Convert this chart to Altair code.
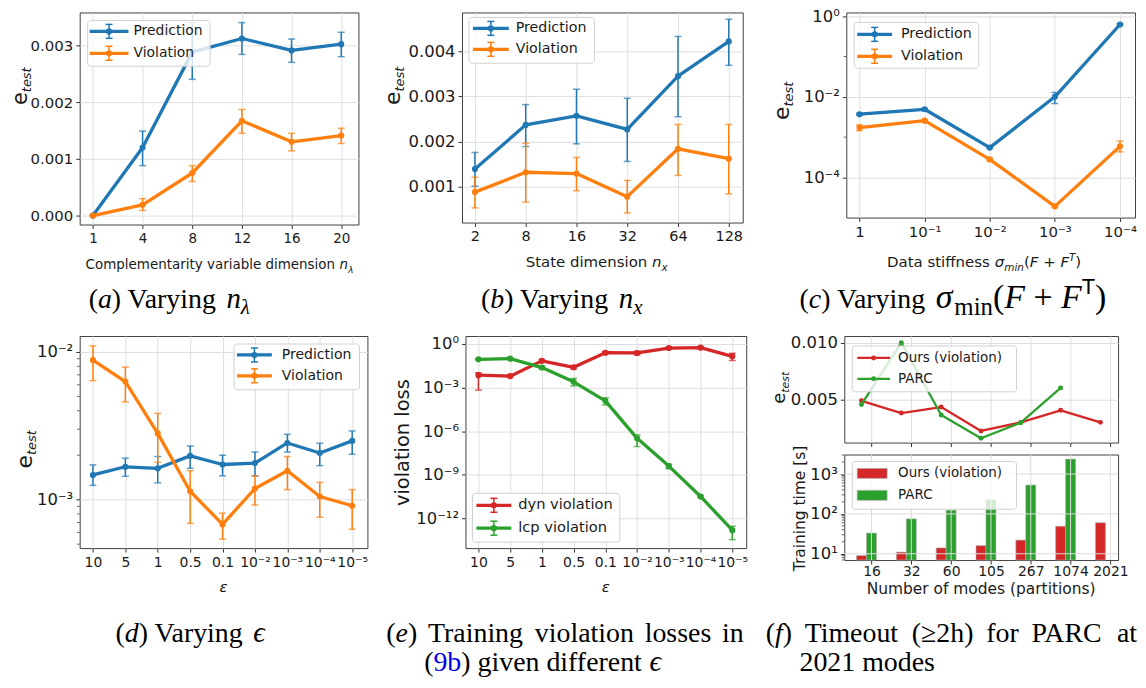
import json
import altair as alt
import pandas as pd

# ---------------- colours / series names ----------------
BLUE, ORANGE, RED, GREEN = '#1f77b4', '#ff7f0e', '#d62728', '#2ca02c'
SERIES_PV = ['Prediction', 'Violation']
SERIES_E = ['dyn violation', 'lcp violation']
SERIES_F = ['Ours (violation)', 'PARC']

# ---------------- (a) varying n_lambda ----------------
A_X = ['1', '4', '8', '12', '16', '20']
A_PRED = [0.0, 0.00120, 0.00288, 0.00312, 0.00291, 0.00302]
A_PRED_LO = [0.0, 0.00088, 0.00240, 0.00284, 0.00270, 0.00280]
A_PRED_HI = [0.0, 0.00149, 0.00340, 0.00340, 0.00311, 0.00323]
A_VIOL = [0.0, 0.00019, 0.00075, 0.00167, 0.00130, 0.00141]
A_VIOL_LO = [0.0, 0.00009, 0.00060, 0.00145, 0.00114, 0.00127]
A_VIOL_HI = [0.0, 0.00030, 0.00088, 0.00187, 0.00145, 0.00154]
A_YT = [0.0, 0.001, 0.002, 0.003]

# ---------------- (b) varying n_x ----------------
B_X = ['2', '8', '16', '32', '64', '128']
B_PRED = [0.00139, 0.00237, 0.00257, 0.00227, 0.00345, 0.00422]
B_PRED_LO = [0.00101, 0.00189, 0.00195, 0.00156, 0.00255, 0.00369]
B_PRED_HI = [0.00176, 0.00282, 0.00316, 0.00296, 0.00433, 0.00471]
B_VIOL = [0.00088, 0.00132, 0.00129, 0.00078, 0.00184, 0.00162]
B_VIOL_LO = [0.00053, 0.00066, 0.00091, 0.00042, 0.00125, 0.00084]
B_VIOL_HI = [0.00121, 0.00196, 0.00165, 0.00114, 0.00238, 0.00238]
B_YT = [0.001, 0.002, 0.003, 0.004]

# ---------------- (c) varying stiffness ----------------
C_X = ['1', '10⁻¹', '10⁻²', '10⁻³', '10⁻⁴']
C_PRED = [3.7e-3, 4.9e-3, 5.5e-4, 1.0e-2, 0.62]
C_PRED_LO = [3.5e-3, 4.6e-3, 5.2e-4, 6.8e-3, 0.59]
C_PRED_HI = [3.9e-3, 5.2e-3, 5.8e-4, 1.28e-2, 0.65]
C_VIOL = [1.72e-3, 2.56e-3, 2.8e-4, 1.92e-5, 5.9e-4]
C_VIOL_LO = [1.45e-3, 2.4e-3, 2.6e-4, 1.8e-5, 4.3e-4]
C_VIOL_HI = [2.0e-3, 2.7e-3, 3.0e-4, 2.05e-5, 8.0e-4]
C_YT = [1e-4, 1e-2, 1.0]
C_YL = ['10⁻⁴', '10⁻²', '10⁰']
C_YMINOR = [1e-3, 1e-1]

# ---------------- (d) varying epsilon ----------------
EPS_X = ['10', '5', '1', '0.5', '0.1', '10⁻²', '10⁻³', '10⁻⁴', '10⁻⁵']
D_PRED = [1.47e-3, 1.67e-3, 1.63e-3, 1.98e-3, 1.73e-3, 1.77e-3, 2.42e-3, 2.07e-3, 2.50e-3]
D_PRED_LO = [1.25e-3, 1.44e-3, 1.30e-3, 1.63e-3, 1.45e-3, 1.45e-3, 2.10e-3, 1.70e-3, 2.03e-3]
D_PRED_HI = [1.72e-3, 1.91e-3, 1.96e-3, 2.31e-3, 2.00e-3, 2.10e-3, 2.77e-3, 2.41e-3, 2.92e-3]
D_VIOL = [8.8e-3, 6.3e-3, 2.81e-3, 1.14e-3, 6.8e-4, 1.19e-3, 1.57e-3, 1.05e-3, 9.1e-4]
D_VIOL_LO = [6.4e-3, 4.6e-3, 1.79e-3, 6.9e-4, 5.4e-4, 9.2e-4, 1.17e-3, 7.6e-4, 6.3e-4]
D_VIOL_HI = [1.1e-2, 7.9e-3, 3.84e-3, 1.57e-3, 8.1e-4, 1.45e-3, 1.96e-3, 1.31e-3, 1.17e-3]
D_YT = [1e-3, 1e-2]
D_YL = ['10⁻³', '10⁻²']
D_YMINOR = [5e-4, 6e-4, 7e-4, 8e-4, 9e-4, 2e-3, 3e-3, 4e-3, 5e-3, 6e-3, 7e-3, 8e-3, 9e-3]

# ---------------- (e) training violation losses ----------------
E_DYN = [6.9e-3, 5.9e-3, 0.066, 0.024, 0.24, 0.23, 0.50, 0.53, 0.136]
E_DYN_LO = [6.5e-4, 5.0e-3, 0.055, 0.018, 0.20, 0.17, 0.42, 0.45, 0.07]
E_DYN_HI = [1.0e-2, 7.0e-3, 0.080, 0.031, 0.29, 0.30, 0.60, 0.62, 0.22]
E_LCP = [0.085, 0.094, 0.023, 2.4e-3, 1.2e-4, 3.2e-7, 4.0e-9, 3.3e-11, 1.6e-13]
E_LCP_LO = [0.078, 0.086, 0.019, 1.26e-3, 6.3e-5, 8.7e-8, 2.6e-9, 2.8e-11, 3.6e-14]
E_LCP_HI = [0.092, 0.100, 0.028, 4.1e-3, 1.95e-4, 5.5e-7, 5.4e-9, 3.9e-11, 2.95e-13]
E_YT = [1e-12, 1e-9, 1e-6, 1e-3, 1.0]
E_YL = ['10⁻¹²', '10⁻⁹', '10⁻⁶', '10⁻³', '10⁰']

# ---------------- (f) timeout / training time ----------------
F_X = ['16', '32', '60', '105', '267', '1074', '2021']
F_OURS_ERR = [0.00488, 0.00380, 0.00433, 0.00222, 0.00298, 0.00404, 0.00298]
F_PARC_ERR = [0.00456, 0.01000, 0.00363, 0.00158, 0.00295, 0.00602, None]
F_OURS_TIME = [9.0, 11.0, 14.0, 16.0, 22.0, 49.0, 60.0]
F_PARC_TIME = [33.0, 75.0, 124.0, 228.0, 530.0, 2370.0, None]
F_TOP_YT = [0.005, 0.010]
F_BOT_YT = [10, 100, 1000]
F_BOT_YL = ['10¹', '10²', '10³']
F_BOT_YMINOR = [7, 8, 9, 20, 30, 40, 50, 60, 70, 80, 90, 200, 300, 400, 500,
                600, 700, 800, 900, 2000, 3000]

# ---------------- text ----------------
A_XTITLE = [('Complementarity variable dimension ', 'r'), ('n', 'i'), ('λ', 'isub')]
B_XTITLE = [('State dimension ', 'r'), ('n', 'i'), ('x', 'isub')]
C_XTITLE = [('Data stiffness ', 'r'), ('σ', 'i'), ('min', 'isub'), ('(', 'r'), ('F', 'i'),
            (' + ', 'r'), ('F', 'i'), ('T', 'isup'), (')', 'r')]
EPS_XTITLE = [('ε', 'i')]
E_YTITLE = [('violation loss', 'r')]
F_YTITLE = [('Training time [s]', 'r')]
F_XTITLE = [('Number of modes (partitions)', 'r')]

CAP_A = [('(', 'r'), ('a', 'i'), (') Varying ', 'r'), ('n', 'mi'), ('λ', 'isub')]
CAP_B = [('(', 'r'), ('b', 'i'), (') Varying ', 'r'), ('n', 'mi'), ('x', 'isub')]
CAP_C = [('(', 'r'), ('c', 'i'), (') Varying ', 'r'), ('σ', 'bi'), ('min', 'rsub2'), ('(', 'br'),
         ('F', 'bi'), (' + ', 'br'), ('F', 'bi'), ('T', 'ssup'), (')', 'br')]
CAP_D = [('(', 'r'), ('d', 'i'), (') Varying ', 'r'), ('ϵ', 'mi')]
CAP_E1 = [('(', 'r'), ('e', 'i'), (')', 'r'), (' ', 'r'), ('Training', 'r'), (' ', 'r'),
          ('violation', 'r'), (' ', 'r'), ('losses', 'r'), (' ', 'r'), ('in', 'r')]
CAP_E2 = [('(', 'r'), ('9b', 'link'), (') given different ', 'r'), ('ϵ', 'mi')]
CAP_F1 = [('(', 'r'), ('f', 'i'), (')', 'r'), (' ', 'r'), ('Timeout', 'r'), (' ', 'r'),
          ('(≥2h)', 'r'), (' ', 'r'), ('for', 'r'), (' ', 'r'), ('PARC', 'r'), (' ', 'r'), ('at', 'r')]
CAP_F2 = [('2021 modes', 'r')]

# ---------------- glyph width tables (em) ----------------
DJ = {' ': .318, '(': .390, ')': .390, '[': .390, ']': .390, '+': .838, '.': .318,
      'A': .684, 'B': .686, 'C': .698, 'D': .770, 'E': .632, 'F': .575, 'G': .775, 'H': .752,
      'I': .295, 'J': .295, 'K': .656, 'L': .557, 'M': .863, 'N': .748, 'O': .787, 'P': .603,
      'Q': .787, 'R': .695, 'S': .635, 'T': .611, 'U': .732, 'V': .684, 'W': .989, 'X': .685,
      'Y': .611, 'Z': .685, 'a': .613, 'b': .635, 'c': .550, 'd': .635, 'e': .615, 'f': .352,
      'g': .635, 'h': .634, 'i': .278, 'j': .278, 'k': .579, 'l': .278, 'm': .974, 'n': .634,
      'o': .612, 'p': .635, 'q': .635, 'r': .411, 's': .521, 't': .392, 'u': .634, 'v': .592,
      'w': .818, 'x': .592, 'y': .592, 'z': .525, 'σ': .634, 'λ': .592, 'ε': .541}
TM = {' ': .25, '(': .333, ')': .333, '+': .564, '≥': .549, 'A': .722, 'C': .667, 'F': .556,
      'P': .556, 'R': .667, 'T': .611, 'V': .722, 'a': .444, 'b': .5, 'c': .444, 'd': .5,
      'e': .444, 'f': .333, 'g': .5, 'h': .5, 'i': .278, 'l': .278, 'm': .778, 'n': .5,
      'o': .5, 'r': .333, 's': .389, 't': .278, 'u': .5, 'v': .5, 'y': .5, 'x': .5}
TMI = dict(TM, **{'a': .5, 'f': .278, 'x': .444, 'F': .611, 'σ': .55, 'λ': .5, 'ϵ': .44})
SANS = {'T': .611}
for _d in '0123456789':
    DJ[_d] = .636
    TM[_d] = .5
    TMI[_d] = .5

SERIF = 'Liberation Serif, DejaVu Serif, serif'
DEJAVU = 'DejaVu Sans'
CF = 28


def width(t, size, tab):
    return sum(tab.get(ch, 0.6) for ch in t) * size


def K():
    return alt.Chart(pd.DataFrame({'k': [0]}))


def cap_tokens(toks):
    spec = {
        'r': (SERIF, CF, 'normal', 0, '#000000', TM),
        'i': (SERIF, CF, 'italic', 0, '#000000', TMI),
        'mi': (SERIF, 29, 'italic', 0, '#000000', TMI),
        'br': (SERIF, 34, 'normal', 0, '#000000', TM),
        'bi': (SERIF, 34, 'italic', 0, '#000000', TMI),
        'isub': (SERIF, 21, 'italic', 6, '#000000', TMI),
        'rsub2': (SERIF, 25, 'normal', 7, '#000000', TM),
        'ssup': ('Liberation Sans', 22, 'normal', -14, '#000000', SANS),
        'link': (SERIF, CF, 'normal', 0, '#0000ee', TM),
    }
    return [(t,) + spec[k] for t, k in toks]


def ax_tokens(toks, fs):
    spec = {
        'r': (DEJAVU, fs, 'normal', 0, '#1a1a1a', DJ),
        'i': (DEJAVU, fs, 'italic', 0, '#1a1a1a', DJ),
        'isub': (DEJAVU, fs * 0.7, 'italic', fs * 0.25, '#1a1a1a', DJ),
        'isup': (DEJAVU, fs * 0.7, 'italic', -fs * 0.45, '#1a1a1a', DJ),
    }
    return [(t,) + spec[k] for t, k in toks]


def etest_tokens(big, small):
    return [('e', DEJAVU, big, 'normal', 0, '#1a1a1a', DJ),
            ('test', DEJAVU, small, 'italic', 4, '#1a1a1a', DJ)]


def run(o, x0, y0, toks, angle=0, anchor='left', target=None):
    ox, oy = o
    widths = [width(t[0], t[2], t[6]) for t in toks]
    total = sum(widths)
    nsp = sum(1 for t in toks if t[0] == ' ')
    extra = (target - total) / nsp if (target and nsp) else 0.0
    if anchor == 'center':
        if angle == 0:
            x0 = x0 - total / 2
        else:
            y0 = y0 + total / 2
    out = []
    p = 0.0
    for (t, font, size, style, dy, color, tab), w in zip(toks, widths):
        lead = len(t) - len(t.lstrip(' '))
        shown = t.strip(' ')
        if shown:
            q = p + width(' ' * lead, size, tab)
            if angle == 0:
                x, y = x0 + q, y0 + dy
            else:
                x, y = x0 + dy, y0 - q
            out.append(K().mark_text(align='left', baseline='alphabetic', font=font,
                                     fontSize=size, fontStyle=style, color=color,
                                     angle=angle).encode(
                x=alt.value(x - ox), y=alt.value(y - oy), text=alt.value(shown)))
        p += w + (extra if t == ' ' else 0.0)
    return out


def cond_expr(vals, labels):
    pairs = sorted(zip(vals, labels), key=lambda p: p[0])
    expr = "''"
    for v, l in pairs:
        expr = f"datum.value >= {v * 0.5!r} ? '{l}' : ({expr})"
    return expr


def axes(xdom, xlabels, ydom, ylog, yvals, ylabels=None, yfmt=None, xls=14.0, yls=16.5,
         show_x=True, grid=True, xpad=3):
    xaxis = alt.Axis(values=list(range(len(xlabels))),
                     labelExpr=json.dumps(xlabels, ensure_ascii=False) + '[round(datum.value)]',
                     title=None, grid=grid, labelFontSize=xls, labelOverlap=False,
                     labelFlush=False, labels=show_x, labelPadding=xpad)
    ykw = dict(values=yvals, title=None, grid=grid, labelFontSize=yls, labelOverlap=False,
               labelFlush=False)
    if ylabels:
        ykw['labelExpr'] = cond_expr(yvals, ylabels)
    if yfmt:
        ykw['format'] = yfmt
    yaxis = alt.Axis(**ykw)
    xscale = alt.Scale(domain=xdom, nice=False, zero=False)
    if ylog:
        yscale = alt.Scale(type='log', domain=ydom, nice=False)
    else:
        yscale = alt.Scale(domain=ydom, nice=False, zero=False)

    def X(f):
        return alt.X(f'{f}:Q', scale=xscale, axis=xaxis)

    def Y(f):
        return alt.Y(f'{f}:Q', scale=yscale, axis=yaxis)
    return X, Y


def series(X, Y, pos, vals, lo, hi, color, lw=3.3, pt=38, cap=7, ew=1.5):
    d = {'pos': list(pos), 'val': vals}
    if lo is not None:
        d['lo'] = lo
        d['hi'] = hi
    df = pd.DataFrame(d).dropna()
    b = alt.Chart(df)
    out = [b.mark_line(color=color, strokeWidth=lw, strokeJoin='round').encode(
        x=X('pos'), y=Y('val'))]
    if lo is not None:
        out.append(b.mark_rule(color=color, strokeWidth=ew).encode(
            x=X('pos'), y=Y('lo'), y2='hi'))
        out.append(b.transform_fold(['lo', 'hi'], as_=['kind', 'v']).mark_tick(
            color=color, orient='horizontal', size=cap, thickness=ew).encode(
            x=X('pos'), y=Y('v')))
    out.append(b.mark_circle(color=color, size=pt, opacity=1).encode(
        x=X('pos'), y=Y('val')))
    return out


def minor(Y, vals, n=2.5):
    return alt.Chart(pd.DataFrame({'m': vals})).mark_rule(
        color='#333333', strokeWidth=0.8).encode(x=alt.value(0), x2=alt.value(-n), y=Y('m'))


def legend(o, box, rows, line, tx, fs, kind='err', lw=3.3, pt=38):
    ox, oy = o
    x0, y0, x1, y1 = box
    L = [K().mark_rect(fill='white', fillOpacity=0.8, stroke='#d0d0d0', strokeWidth=1,
                       cornerRadius=3).encode(
        x=alt.value(x0 - ox), x2=alt.value(x1 - ox), y=alt.value(y0 - oy), y2=alt.value(y1 - oy))]
    lx0, lx1 = line
    mid = (lx0 + lx1) / 2
    for label, color, ry in rows:
        if kind == 'bar':
            L.append(K().mark_rect(fill=color, stroke='#aaaaaa', strokeWidth=0.6).encode(
                x=alt.value(lx0 - ox), x2=alt.value(lx1 - ox),
                y=alt.value(ry - 5 - oy), y2=alt.value(ry + 5 - oy)))
        else:
            L.append(K().mark_rule(color=color, strokeWidth=lw).encode(
                x=alt.value(lx0 - ox), x2=alt.value(lx1 - ox), y=alt.value(ry - oy)))
            if kind == 'err':
                L.append(K().mark_rule(color=color, strokeWidth=1.5).encode(
                    x=alt.value(mid - ox), y=alt.value(ry - 7 - oy), y2=alt.value(ry + 7 - oy)))
                for yy in (ry - 7, ry + 7):
                    L.append(K().mark_rule(color=color, strokeWidth=1.5).encode(
                        x=alt.value(mid - 3.5 - ox), x2=alt.value(mid + 3.5 - ox),
                        y=alt.value(yy - oy)))
            L.append(K().mark_circle(color=color, size=pt, opacity=1).encode(
                x=alt.value(mid - ox), y=alt.value(ry - oy)))
        L.append(K().mark_text(align='left', baseline='middle', font=DEJAVU, fontSize=fs,
                               color='#1a1a1a').encode(
            x=alt.value(tx - ox), y=alt.value(ry - oy), text=alt.value(label)))
    return L


def pin(x, y):
    return K().mark_rule(opacity=0, color='white').encode(
        x=alt.value(x), x2=alt.value(x + 1), y=alt.value(y))


# ======================= panel (a) =======================
oa, oca = (79, 7), (79, 12)
Xa, Ya = axes([-0.267, 5.347], A_X, [-0.000158, 0.003579], False, A_YT, yfmt='.3f',
              xls=13.5, yls=15)
La = []
La += series(Xa, Ya, range(6), A_PRED, A_PRED_LO, A_PRED_HI, BLUE)
La += series(Xa, Ya, range(6), A_VIOL, A_VIOL_LO, A_VIOL_HI, ORANGE)
La += legend(oa, (87, 15, 210, 61), [(SERIES_PV[0], BLUE, 26), (SERIES_PV[1], ORANGE, 48)],
             (89, 128), 133, 14)
La += run(oa, 26, 100, etest_tokens(21, 13), angle=270)
La += run(oa, 219.5, 265, ax_tokens(A_XTITLE, 13.5), anchor='center')
La += run(oca, 88, 309, cap_tokens(CAP_A))
La.append(pin(-76, -6))
pa = alt.layer(*La).properties(width=280, height=213)

# ======================= panel (b) =======================
ob, ocb = (466, 7), (463, 12)
Xb, Yb = axes([-0.255, 5.275], B_X, [0.000206, 0.004861], False, B_YT, yfmt='.3f',
              xls=14.5, yls=16.5)
Lb = []
Lb += series(Xb, Yb, range(6), B_PRED, B_PRED_LO, B_PRED_HI, BLUE)
Lb += series(Xb, Yb, range(6), B_VIOL, B_VIOL_LO, B_VIOL_HI, ORANGE)
Lb += legend(ob, (473, 12, 599, 58), [(SERIES_PV[0], BLUE, 23), (SERIES_PV[1], ORANGE, 44)],
             (477, 513), 520, 14.3)
Lb += run(ob, 404, 100, etest_tokens(22, 13), angle=270)
Lb += run(ob, 530, 263, ax_tokens(B_XTITLE, 15))
Lb += run(ocb, 482, 309, cap_tokens(CAP_B))
pb = alt.layer(*Lb).properties(width=282, height=211)

# ======================= panel (c) =======================
oc, occ = (849, 7), (849, 12)
Xc, Yc = axes([-0.203, 4.231], C_X, [10 ** -4.995, 10 ** 0.0914], True, C_YT, ylabels=C_YL,
              xls=15, yls=16.5)
Lc = [minor(Yc, C_YMINOR)]
Lc += series(Xc, Yc, range(5), C_PRED, C_PRED_LO, C_PRED_HI, BLUE)
Lc += series(Xc, Yc, range(5), C_VIOL, C_VIOL_LO, C_VIOL_HI, ORANGE)
Lc += legend(oc, (857, 17, 982, 63), [(SERIES_PV[0], BLUE, 29), (SERIES_PV[1], ORANGE, 51)],
             (860, 895), 904, 14.3)
Lc += run(oc, 791, 115, etest_tokens(22, 13), angle=270)
Lc += run(oc, 890, 263, ax_tokens(C_XTITLE, 15))
Lc += run(occ, 802, 309, cap_tokens(CAP_C))
pc = alt.layer(*Lc).properties(width=290, height=206)

# ======================= panel (d) =======================
od = (79, 334)
Xd, Yd = axes([-0.409, 8.470], EPS_X, [10 ** -3.328, 10 ** -1.892], True, D_YT, ylabels=D_YL,
              xls=14, yls=16.5)
Ld = [minor(Yd, D_YMINOR)]
Ld += series(Xd, Yd, range(9), D_PRED, D_PRED_LO, D_PRED_HI, BLUE)
Ld += series(Xd, Yd, range(9), D_VIOL, D_VIOL_LO, D_VIOL_HI, ORANGE)
Ld += legend(od, (234, 342, 360, 388), [(SERIES_PV[0], BLUE, 353), (SERIES_PV[1], ORANGE, 374)],
             (237, 272), 282, 14.1)
Ld += run(od, 31, 467, etest_tokens(22, 13), angle=270)
Ld += run(od, 223.5, 591, ax_tokens(EPS_XTITLE, 15), anchor='center')
Ld += run(od, 115, 641, cap_tokens(CAP_D))
Ld.append(pin(-76, 10))
pd_ = alt.layer(*Ld).properties(width=289, height=213)

# ======================= panel (e) =======================
oe, oce = (467, 334), (466.5, 334)
Xe, Ye = axes([-0.408, 8.439], EPS_X, [10 ** -14.025, 10 ** 0.5237], True, E_YT, ylabels=E_YL,
              xls=14, yls=16.5)
Le = []
Le += series(Xe, Ye, range(9), E_DYN, E_DYN_LO, E_DYN_HI, RED)
Le += series(Xe, Ye, range(9), E_LCP, E_LCP_LO, E_LCP_HI, GREEN)
Le += legend(oe, (474, 492, 622, 541), [(SERIES_E[0], RED, 504), (SERIES_E[1], GREEN, 527)],
             (478, 513), 520, 14.7)
Le += run(oe, 410, 441, ax_tokens(E_YTITLE, 19.5), angle=270, anchor='center')
Le += run(oe, 608, 591, ax_tokens(EPS_XTITLE, 15), anchor='center')
Le += run(oce, 387, 641, cap_tokens(CAP_E1), target=359)
Le += run(oce, 425, 670.5, cap_tokens(CAP_E2))
pe = alt.layer(*Le).properties(width=282, height=213)

# ======================= panel (f) top =======================
oft = (847, 334)
FPOS = [i - 0.25 for i in range(7)]
Xft, Yft = axes([-0.683, 6.193], F_X, [0.0012, 0.01059], False, F_TOP_YT, yfmt='.3f',
                xls=14, yls=16.5, show_x=False)
Lft = []
Lft += series(Xft, Yft, FPOS, F_OURS_ERR, None, None, RED, lw=2.3, pt=25)
Lft += series(Xft, Yft, FPOS, F_PARC_ERR, None, None, GREEN, lw=2.3, pt=25)
Lft += legend(oft, (855, 344, 1020, 390), [(SERIES_F[0], RED, 356), (SERIES_F[1], GREEN, 377)],
              (860, 893), 901, 13.5, kind='line', lw=2.3, pt=25)
Lft += run(oft, 787, 402, etest_tokens(18, 11), angle=270)
pft = alt.layer(*Lft).properties(width=275, height=107)

# ======================= panel (f) bottom =======================
ofb = (847, 453)
FB_DOM = [10 ** 0.8425, 10 ** 3.49]
Xfb, Yfb = axes([-0.683, 6.193], F_X, FB_DOM, True, F_BOT_YT,
                ylabels=F_BOT_YL, xls=14, yls=16.5, grid=False, xpad=1)
bars1 = pd.DataFrame({'x0': [i - 0.375 for i in range(7)], 'x1': [i - 0.125 for i in range(7)],
                      't': F_OURS_TIME, 'base': FB_DOM[0]})
bars2 = pd.DataFrame({'x0': [i - 0.125 for i in range(7)], 'x1': [i + 0.125 for i in range(7)],
                      't': F_PARC_TIME, 'base': FB_DOM[0]}).dropna()
Lfb = [minor(Yfb, F_BOT_YMINOR)]
for dfb, col in ((bars1, RED), (bars2, GREEN)):
    Lfb.append(alt.Chart(dfb).mark_rect(color=col, stroke='#aaaaaa', strokeWidth=0.6).encode(
        x=Xfb('x0'), x2='x1', y=Yfb('t'), y2='base'))
Lfb.append(alt.Chart(pd.DataFrame({'g': F_BOT_YT})).mark_rule(color='#dcdcdc', strokeWidth=1).encode(
    x=alt.value(0), x2=alt.value(275), y=Yfb('g')))
Lfb.append(alt.Chart(pd.DataFrame({'g': list(range(7))})).mark_rule(color='#dcdcdc', strokeWidth=1).encode(
    x=Xfb('g'), y=alt.value(0), y2=alt.value(106)))
Lfb += legend(ofb, (855, 460, 1020, 508), [(SERIES_F[0], RED, 472), (SERIES_F[1], GREEN, 494)],
              (860, 890), 901, 13.5, kind='bar')
Lfb += run(ofb, 808, 506, ax_tokens(F_YTITLE, 15.5), angle=270, anchor='center')
Lfb += run(ofb, 984.5, 593, ax_tokens(F_XTITLE, 15.5), anchor='center')
Lfb += run(ofb, 768, 641, cap_tokens(CAP_F1), target=373)
Lfb += run(ofb, 802, 670.5, cap_tokens(CAP_F2))
pfb = alt.layer(*Lfb).properties(width=275, height=106)

pf = alt.vconcat(pft, pfb, spacing=12, bounds='flush')

row1 = alt.hconcat(pa, pb, pc, spacing=104, bounds='flush')
row2 = alt.hconcat(pd_, pe, pf, spacing=98.5, bounds='flush')

chart = alt.vconcat(row1, row2, spacing=13, bounds='full').properties(
    padding={'left': -5, 'top': -4, 'right': 0, 'bottom': 0}
).configure_view(
    stroke='#404040', strokeWidth=1
).configure_axis(
    domain=False, gridColor='#dedede', gridWidth=1, tickColor='#333333', tickSize=4,
    labelColor='#1a1a1a', labelFont=DEJAVU, labelPadding=3
)

chart.save('out.html', embed_options={'renderer': 'svg', 'actions': False})
